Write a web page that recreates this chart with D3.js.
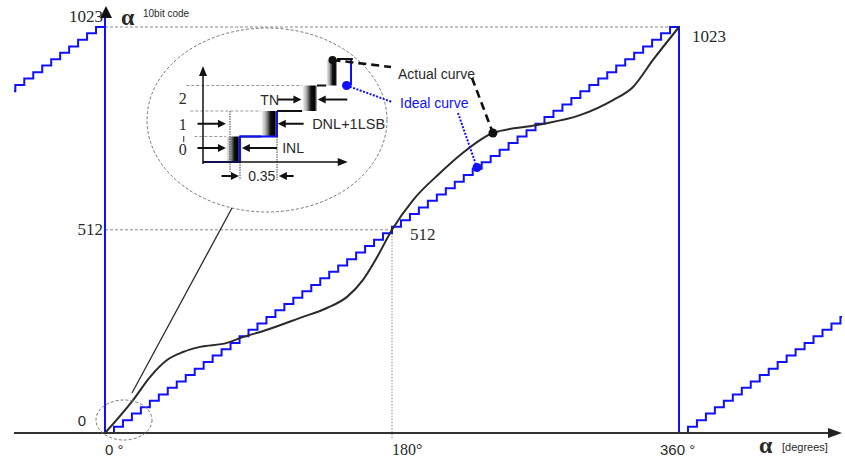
<!DOCTYPE html>
<html>
<head>
<meta charset="utf-8">
<script src="https://cdn.jsdelivr.net/npm/d3@7"></script>
<style>
  body { margin: 0; background: #fff; }
  svg { display: block; }
</style>
</head>
<body>
<div id="graf"></div>
<script>
// curva real (grados, codigo de 10 bits)
const actualAngle = [0, 17.6, 28.2, 38.9, 48.9, 59.6, 76.5, 84.7, 101.6, 122.3, 139.2, 151.8, 161.8, 170.6, 180, 193.2, 210.1, 224.5, 235.2, 243.3, 270.9, 297.9, 318.6, 331.2, 343.7, 360]
const actualCode = [0, 83, 141, 184, 204, 217, 227, 239, 260, 290, 315, 343, 386, 443, 512, 587, 655, 706, 738, 756, 776, 801, 839, 872, 940, 1023]

// curva ideal: escalera
const codeMax = 1023
const stepCount = 64
const cycles = [-360, 0, 360]

// marcadores
const actualMark = [243.3, 756]
const idealMark = [233.3, 669]

// ejes
const xTicks = [0, 180, 360]
const xTickLabels = ['0 °', '180°', '360 °']
const yTicks = [0, 512, 1023]
const yTickLabels = ['0', '512', '1023']

// detalle (inset), en LSB
const insetLevels = [0, 1, 2]
const insetLevelLabels = ['0', '1', '2']
const tnStart = [0.62, 1.57, 2.68, 3.33]
const tnEnd = [1.0, 2.0, 3.08, 3.62]

const ancho = 845
const alto = 461

const svg = d3.select('#graf')
  .append('svg')
  .attr('width', ancho)
  .attr('height', alto)

const x = d3.scaleLinear().domain([0, 360]).range([105, 679])
const y = d3.scaleLinear().domain([0, codeMax]).range([433, 27])

const ix = d3.scaleLinear().domain([0, 4]).range([203, 351])
const iy = d3.scaleLinear().domain([0, 4]).range([162, 60])

const defs = svg.append('defs')
defs.append('clipPath').attr('id', 'clip')
  .append('rect').attr('x', 14).attr('y', 0).attr('width', 828).attr('height', y(0))

const grad = defs.append('linearGradient').attr('id', 'tn')
  .attr('x1', '0%').attr('x2', '100%')
;[[0, '#fff'], [0.3, '#aaa'], [0.6, '#111'], [0.85, '#000'], [1, '#bbb']].forEach(s => {
  grad.append('stop').attr('offset', s[0]).attr('stop-color', s[1])
})

const serif = '"Liberation Serif", "DejaVu Serif", serif'
const sans = '"Liberation Sans", Arial, sans-serif'
const ink = '#2a2a2a'
const blue = '#1010ff'

// guias
const guide = svg.append('g')
  .attr('fill', 'none')
  .attr('stroke', '#8a8a8a')
  .attr('stroke-width', 1)
  .attr('stroke-dasharray', '3,2')
guide.append('line')
  .attr('x1', x(0)).attr('x2', x(360))
  .attr('y1', y(1023)).attr('y2', y(1023))
guide.append('line')
  .attr('x1', x(0)).attr('x2', x(180))
  .attr('y1', y(512)).attr('y2', y(512))
guide.append('line')
  .attr('x1', x(180)).attr('x2', x(180))
  .attr('y1', y(512)).attr('y2', y(0) + 7)
  .attr('stroke-dasharray', '1.5,1.5')

// escalera ideal
const stepW = 360 / stepCount
const stairs = []
cycles.forEach(off => {
  d3.range(stepCount).forEach(k => {
    stairs.push([off + k * stepW, Math.round(k * codeMax / (stepCount - 1))])
  })
})
stairs.push([720, codeMax])

svg.append('path')
  .datum(stairs)
  .attr('clip-path', 'url(#clip)')
  .attr('fill', 'none')
  .attr('stroke', blue)
  .attr('stroke-width', 2)
  .attr('d', d3.line().x(d => x(d[0])).y(d => y(d[1])).curve(d3.curveStepAfter))

// eje y azul
svg.append('line')
  .attr('x1', x(0)).attr('x2', x(0))
  .attr('y1', y(0)).attr('y2', 14)
  .attr('stroke', blue).attr('stroke-width', 2)
svg.append('path')
  .attr('d', `M${x(0) + 1},6 L${x(0) - 5},18 L${x(0) + 7},18 Z`)
  .attr('fill', '#111')

// eje x
svg.append('line')
  .attr('x1', 14).attr('x2', 832)
  .attr('y1', y(0)).attr('y2', y(0))
  .attr('stroke', '#333').attr('stroke-width', 2)
svg.append('path')
  .attr('d', `M842,${y(0)} L828,${y(0) - 5} L828,${y(0) + 5} Z`)
  .attr('fill', '#222')

// curva real
const pts = actualAngle.map((a, i) => [a, actualCode[i]])
svg.append('path')
  .datum(pts)
  .attr('fill', 'none')
  .attr('stroke', ink)
  .attr('stroke-width', 2)
  .attr('d', d3.line().x(d => x(d[0])).y(d => y(d[1])).curve(d3.curveMonotoneX))

// etiquetas de ejes
const txt = svg.append('g').attr('fill', ink)
yTicks.forEach((t, i) => {
  txt.append('text')
    .attr('x', t === 0 ? x(0) - 19 : x(0) - 2)
    .attr('y', y(t) + (t === 0 ? -7 : t === 1023 ? -5 : 5))
    .attr('text-anchor', 'end')
    .attr('font-family', t === 0 ? sans : serif)
    .attr('font-size', t === 0 ? 15 : 17)
    .text(yTickLabels[i])
})
txt.append('text').attr('x', x(180) + 18).attr('y', y(512) + 10)
  .attr('font-family', serif).attr('font-size', 17).text('512')
txt.append('text').attr('x', x(360) + 13).attr('y', y(1023) + 15)
  .attr('font-family', serif).attr('font-size', 17).text('1023')

xTicks.forEach((t, i) => {
  txt.append('text')
    .attr('x', x(t) + (t === 360 ? -19 : 0))
    .attr('y', y(0) + 22)
    .attr('font-family', t === 180 ? serif : sans)
    .attr('font-size', t === 180 ? 16 : 15)
    .text(xTickLabels[i])
})

txt.append('text').attr('x', x(0) + 16).attr('y', 25)
  .attr('font-family', serif).attr('font-size', 24).attr('font-weight', 'bold').text('α')
txt.append('text').attr('x', x(0) + 38).attr('y', 17)
  .attr('font-family', sans).attr('font-size', 10).text('10bit code')
txt.append('text').attr('x', 759).attr('y', 453)
  .attr('font-family', serif).attr('font-size', 24).attr('font-weight', 'bold').text('α')
txt.append('text').attr('x', 782).attr('y', 451)
  .attr('font-family', sans).attr('font-size', 11).text('[degrees]')

// elipses de zoom
svg.append('ellipse')
  .attr('cx', x(0) + 19).attr('cy', y(0) - 13).attr('rx', 28).attr('ry', 20)
  .attr('fill', 'none').attr('stroke', '#777').attr('stroke-width', 1).attr('stroke-dasharray', '3,2')
svg.append('ellipse')
  .attr('cx', 267).attr('cy', 120).attr('rx', 120).attr('ry', 92)
  .attr('fill', 'none').attr('stroke', '#777').attr('stroke-width', 1).attr('stroke-dasharray', '3,2')
svg.append('line')
  .attr('x1', x(0) + 27).attr('y1', y(0) - 40).attr('x2', 232).attr('y2', 208)
  .attr('stroke', ink).attr('stroke-width', 1.3)

// ---------- inset ----------
const ins = svg.append('g')

// guias discontinuas del inset
;[1, 2, 3].forEach((lv, i) => {
  ins.append('line')
    .attr('x1', ix(-0.45) + i * -4 + 8).attr('x2', ix(tnStart[i]))
    .attr('y1', iy(lv)).attr('y2', iy(lv))
    .attr('stroke', '#999').attr('stroke-width', 1).attr('stroke-dasharray', '3,2')
})

// bloques de ruido de transicion
tnStart.forEach((s, i) => {
  ins.append('rect')
    .attr('x', ix(s)).attr('width', ix(tnEnd[i]) - ix(s))
    .attr('y', iy(i + 1)).attr('height', iy(i) - iy(i + 1))
    .attr('fill', 'url(#tn)')
})

// escalones reales (bordes superiores)
const blk = ins.append('g').attr('stroke', '#111').attr('stroke-width', 2)
;[1, 2, 3].forEach(lv => {
  blk.append('line')
    .attr('x1', ix(tnEnd[lv - 1])).attr('x2', ix(tnStart[lv]))
    .attr('y1', iy(lv)).attr('y2', iy(lv))
})
blk.append('line').attr('x1', ix(tnEnd[3])).attr('x2', ix(4.05))
  .attr('y1', iy(4) - 1).attr('y2', iy(4) - 1)

// escalera ideal del inset
const insIdeal = [[0, 0], [1, 0], [1, 1], [2, 1], [2, 2]]
ins.append('path')
  .datum(insIdeal)
  .attr('fill', 'none').attr('stroke', blue).attr('stroke-width', 2)
  .attr('d', d3.line().x(d => ix(d[0])).y(d => iy(d[1])))
ins.append('line')
  .attr('x1', ix(4)).attr('x2', ix(4)).attr('y1', iy(3)).attr('y2', iy(4))
  .attr('stroke', blue).attr('stroke-width', 2)

// lineas finas verticales
const thin = ins.append('g').attr('stroke', '#444').attr('stroke-width', 1).attr('stroke-dasharray', '1.5,1')
thin.append('line').attr('x1', ix(0.73)).attr('x2', ix(0.73)).attr('y1', iy(2)).attr('y2', iy(-0.4))
thin.append('line').attr('x1', ix(1)).attr('x2', ix(1)).attr('y1', iy(0)).attr('y2', iy(-0.7))
thin.append('line').attr('x1', ix(2)).attr('x2', ix(2)).attr('y1', iy(1)).attr('y2', iy(-0.7))

// ejes del inset
ins.append('line').attr('x1', ix(0)).attr('x2', ix(0)).attr('y1', iy(0) + 2).attr('y2', iy(4) + 12)
  .attr('stroke', '#111').attr('stroke-width', 1.5)
ins.append('path').attr('d', `M${ix(0)},${iy(4) + 6} L${ix(0) - 4},${iy(4) + 16} L${ix(0) + 4},${iy(4) + 16} Z`).attr('fill', '#111')
ins.append('line').attr('x1', ix(0)).attr('x2', ix(3.75)).attr('y1', iy(0)).attr('y2', iy(0))
  .attr('stroke', '#111').attr('stroke-width', 1.5)
ins.append('path').attr('d', `M${ix(3.75) + 6},${iy(0)} L${ix(3.75) - 4},${iy(0) - 4} L${ix(3.75) - 4},${iy(0) + 4} Z`).attr('fill', '#111')

// flechas
function arrow(x1, x2, yy) {
  const dir = x2 > x1 ? 1 : -1
  ins.append('line').attr('x1', x1).attr('x2', x2 - dir * 6).attr('y1', yy).attr('y2', yy)
    .attr('stroke', '#111').attr('stroke-width', 2)
  ins.append('path')
    .attr('d', `M${x2},${yy} L${x2 - dir * 8},${yy - 4} L${x2 - dir * 8},${yy + 4} Z`)
    .attr('fill', '#111')
}
arrow(ix(-0.15), ix(0.62), iy(0.55))
arrow(ix(2), ix(1.05), iy(0.55))
arrow(ix(-0.15), ix(0.62), iy(1.5))
arrow(ix(2.72), ix(2.02), iy(1.5))
arrow(ix(2.02), ix(2.66), iy(2.45))
arrow(ix(3.9), ix(3.1), iy(2.45))
arrow(ix(0.5), ix(0.97), iy(-0.55))
arrow(ix(2.45), ix(2.05), iy(-0.55))

// textos del inset
insetLevels.forEach((lv, i) => {
  ins.append('text').attr('x', ix(-0.55)).attr('y', iy(lv + 0.5) + 6)
    .attr('text-anchor', 'middle')
    .attr('font-family', serif).attr('font-size', 16).attr('fill', ink)
    .text(insetLevelLabels[i])
})
// pequena marca sobre el 0
ins.append('line').attr('x1', ix(-0.52)).attr('x2', ix(-0.52)).attr('y1', iy(1.02)).attr('y2', iy(0.78))
  .attr('stroke', ink).attr('stroke-width', 1)
const insT = ins.append('g').attr('font-family', sans).attr('font-size', 14).attr('fill', ink)
insT.append('text').attr('x', ix(1.55)).attr('y', iy(2.45) + 5).text('TN')
insT.append('text').attr('x', ix(2.95)).attr('y', iy(1.5) + 5).attr('font-size', 14.5).text('DNL+1LSB')
insT.append('text').attr('x', ix(2.14)).attr('y', iy(0.55) + 5).text('INL')
insT.append('text').attr('x', ix(1.22)).attr('y', iy(-0.55) + 5).text('0.35')

// marcadores y guias de leyenda
const ax = x(actualMark[0]), ay = y(actualMark[1])
const bx = x(idealMark[0]), by = y(idealMark[1])
const dashA = svg.append('g').attr('stroke', '#111').attr('stroke-width', 2.6).attr('stroke-dasharray', '8,5').attr('fill', 'none')
dashA.append('line').attr('x1', ix(3.5)).attr('y1', iy(4)).attr('x2', 391).attr('y2', 67)
dashA.append('line').attr('x1', 472).attr('y1', 78).attr('x2', ax).attr('y2', ay)

const dashB = svg.append('g').attr('stroke', blue).attr('stroke-width', 2).attr('stroke-dasharray', '2,1.5').attr('fill', 'none')
dashB.append('line').attr('x1', ix(3.88)).attr('y1', iy(3)).attr('x2', 392).attr('y2', 102)
dashB.append('line').attr('x1', 458).attr('y1', 113).attr('x2', bx).attr('y2', by)

svg.append('circle').attr('cx', ix(3.5)).attr('cy', iy(4)).attr('r', 4).attr('fill', '#111')
svg.append('circle').attr('cx', ix(3.88)).attr('cy', iy(3)).attr('r', 4.5).attr('fill', blue)
svg.append('circle').attr('cx', ax).attr('cy', ay).attr('r', 4.5).attr('fill', '#111')
svg.append('circle').attr('cx', bx).attr('cy', by).attr('r', 4.5).attr('fill', blue)

svg.append('text').attr('x', 398).attr('y', 79)
  .attr('font-family', sans).attr('font-size', 14).attr('fill', ink).text('Actual curve')
svg.append('text').attr('x', 400).attr('y', 108)
  .attr('font-family', sans).attr('font-size', 14).attr('fill', blue).text('Ideal curve')
</script>
</body>
</html>
